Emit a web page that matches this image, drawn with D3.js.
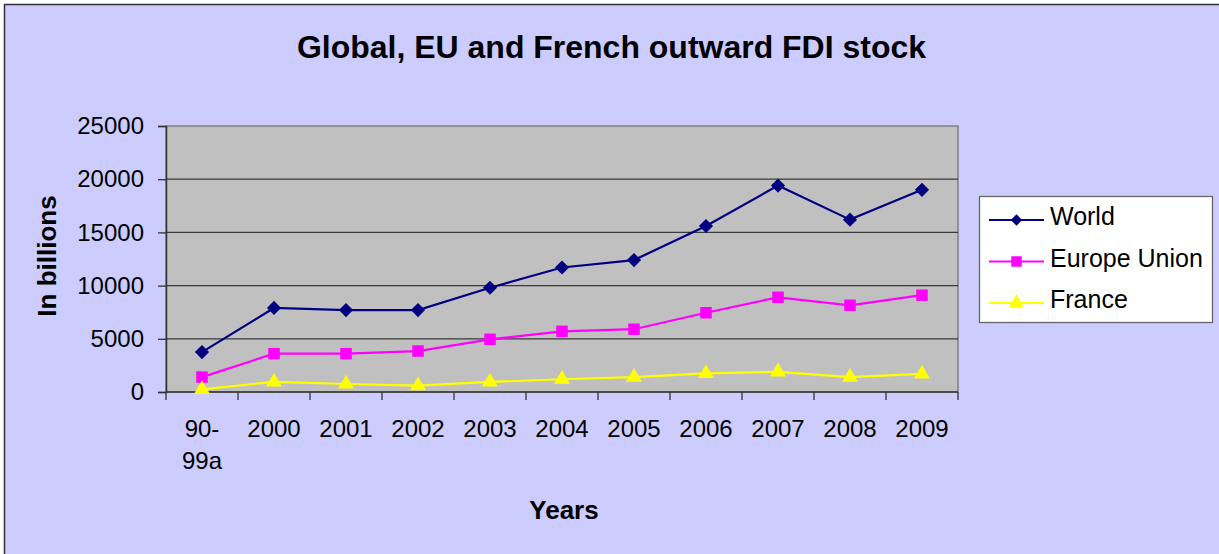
<!DOCTYPE html>
<html lang="en">
<head>
    <meta charset="UTF-8">
    <title>Global, EU and French outward FDI stock</title>
    <script src="https://d3js.org/d3.v7.min.js"></script>
    <style>
        body {
            margin: 0;
            background: #fff;
            font-family: "Liberation Sans", Arial, sans-serif;
        }
        text {
            fill: #000;
        }
        .axis path, .axis line {
            stroke: #333;
        }
    </style>
</head>
<body>
    <svg width="1219" height="554"></svg>
    <script>
        const categories = ["90-99a", "2000", "2001", "2002", "2003", "2004", "2005", "2006", "2007", "2008", "2009"];
        const world = [3750, 7900, 7700, 7700, 9800, 11700, 12400, 15600, 19400, 16200, 19000];
        const europeUnion = [1400, 3600, 3600, 3850, 4950, 5700, 5900, 7450, 8900, 8150, 9100];
        const france = [250, 950, 750, 600, 950, 1200, 1400, 1750, 1900, 1400, 1700];
        const yTicks = [0, 5000, 10000, 15000, 20000, 25000];

        // diamond = square turned 45deg
        const series = [
            {name: "World", values: world, color: "#000080", symbol: d3.symbolSquare, rotate: 45, size: 100, lsize: 64},
            {name: "Europe Union", values: europeUnion, color: "#ff00ff", symbol: d3.symbolSquare, rotate: 0, size: 132, lsize: 110},
            {name: "France", values: france, color: "#ffff00", symbol: d3.symbolTriangle, rotate: 0, size: 110, lsize: 100}
        ];

        const svg = d3.select("svg");
        const plot = {left: 166, right: 958, top: 126, bottom: 392};

        // chart background
        svg.append("rect")
            .attr("x", 4.5).attr("y", 4.5)
            .attr("width", 1220).attr("height", 555)
            .attr("fill", "#ccccff")
            .attr("stroke", "#333")
            .attr("stroke-width", 1.5);

        const x = d3.scaleBand().domain(categories).range([plot.left, plot.right]);
        const y = d3.scaleLinear().domain([0, 25000]).range([plot.bottom, plot.top]);

        // plot area
        svg.append("rect")
            .attr("x", plot.left).attr("y", plot.top)
            .attr("width", plot.right - plot.left).attr("height", plot.bottom - plot.top)
            .attr("fill", "#c0c0c0")
            .attr("stroke", "#808080")
            .attr("stroke-width", 1.5);

        // gridlines
        svg.append("g")
            .selectAll("line")
            .data(yTicks.slice(1, -1))
            .enter().append("line")
            .attr("x1", plot.left).attr("x2", plot.right)
            .attr("y1", d => y(d)).attr("y2", d => y(d))
            .attr("stroke", "#3a3a3a")
            .attr("stroke-width", 1.3);

        // y axis
        const yAxis = svg.append("g")
            .attr("class", "axis")
            .attr("transform", `translate(${plot.left},0)`)
            .call(d3.axisLeft(y).tickValues(yTicks).tickSize(8).tickPadding(14).tickFormat(d3.format("d")));
        yAxis.select(".domain").attr("stroke-width", 1.5);
        yAxis.selectAll("line").attr("stroke-width", 1.3);
        yAxis.selectAll("text")
            .style("font-family", "'Liberation Sans', Arial, sans-serif")
            .style("font-size", "24px");

        // x axis
        const xAxis = svg.append("g").attr("class", "axis");
        xAxis.append("line")
            .attr("x1", plot.left).attr("x2", plot.right)
            .attr("y1", plot.bottom).attr("y2", plot.bottom)
            .attr("stroke-width", 1.5);
        const bounds = categories.map(c => x(c)).concat([plot.right]);
        xAxis.selectAll(".xtick")
            .data(bounds)
            .enter().append("line")
            .attr("class", "xtick")
            .attr("x1", d => d).attr("x2", d => d)
            .attr("y1", plot.bottom).attr("y2", plot.bottom + 8)
            .attr("stroke-width", 1.3);
        const xLabels = xAxis.selectAll(".xlabel")
            .data(categories)
            .enter().append("text")
            .attr("class", "xlabel")
            .attr("text-anchor", "middle")
            .style("font-size", "24px")
            .attr("transform", d => `translate(${x(d) + x.bandwidth() / 2},${plot.bottom + 45})`);
        xLabels.each(function(d) {
            const parts = d.includes("-") ? [d.split("-")[0] + "-", d.split("-")[1]] : [d];
            d3.select(this).selectAll("tspan")
                .data(parts)
                .enter().append("tspan")
                .attr("x", 0)
                .attr("y", (p, i) => i * 32)
                .text(p => p);
        });

        // lines + markers
        const line = d3.line()
            .x((v, i) => x(categories[i]) + x.bandwidth() / 2)
            .y(v => y(v));

        series.forEach(s => {
            svg.append("path")
                .datum(s.values)
                .attr("fill", "none")
                .attr("stroke", s.color)
                .attr("stroke-width", 2.2)
                .attr("d", line);
            svg.append("g")
                .selectAll("path")
                .data(s.values)
                .enter().append("path")
                .attr("d", d3.symbol().type(s.symbol).size(s.size))
                .attr("fill", s.color)
                .attr("transform", (v, i) => `translate(${x(categories[i]) + x.bandwidth() / 2},${y(v)}) rotate(${s.rotate})`);
        });

        // titles
        svg.append("text")
            .attr("x", 611.5).attr("y", 58)
            .attr("text-anchor", "middle")
            .attr("textLength", 629)
            .attr("lengthAdjust", "spacingAndGlyphs")
            .style("font-size", "31px")
            .style("font-weight", "bold")
            .text("Global, EU and French outward FDI stock");

        svg.append("text")
            .attr("transform", "translate(56,256) rotate(-90)")
            .attr("text-anchor", "middle")
            .style("font-size", "26px")
            .style("font-weight", "bold")
            .text("In billions");

        svg.append("text")
            .attr("x", 564).attr("y", 519)
            .attr("text-anchor", "middle")
            .style("font-size", "26px")
            .style("font-weight", "bold")
            .text("Years");

        // legend
        const legend = svg.append("g").attr("transform", "translate(979,196)");
        legend.append("rect")
            .attr("x", 0.5).attr("y", 0.5)
            .attr("width", 233).attr("height", 126)
            .attr("fill", "#fff")
            .attr("stroke", "#666")
            .attr("stroke-width", 1.3);
        const item = legend.selectAll(".item")
            .data(series)
            .enter().append("g")
            .attr("class", "item")
            .attr("transform", (d, i) => `translate(0,${24 + i * 41.5})`);
        item.append("line")
            .attr("x1", 10).attr("x2", 65)
            .attr("stroke", d => d.color)
            .attr("stroke-width", 2.2);
        item.append("path")
            .attr("d", d => d3.symbol().type(d.symbol).size(d.lsize)())
            .attr("fill", d => d.color)
            .attr("transform", d => `translate(37.5,0) rotate(${d.rotate})`);
        item.append("text")
            .attr("x", 71).attr("y", 5)
            .style("font-size", "25px")
            .text(d => d.name);
    </script>
</body>
</html>
